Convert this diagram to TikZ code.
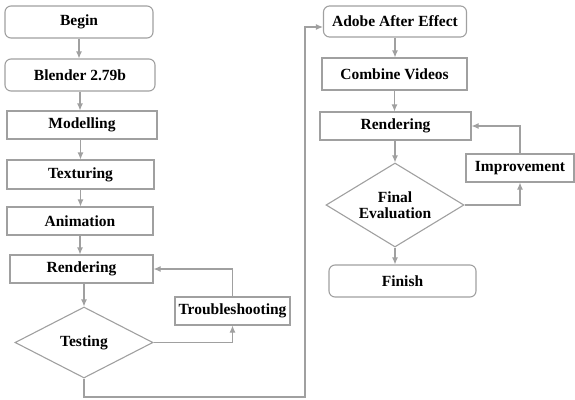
\documentclass[tikz,border=0pt]{standalone}
\usepackage{fontspec}
\setmainfont{Liberation Serif}
\usetikzlibrary{shapes.geometric,arrows.meta}

\tikzset{
  box/.style={draw=linegray,line width=1.1pt,shape=rectangle,inner sep=1pt,
    font=\fontsize{15.5}{18}\selectfont\bfseries},
  roundbox/.style={box,rounded corners=6pt},
  decision/.style={box,shape=diamond,inner sep=0pt,aspect=1.9,align=center},
  flow/.style={draw=linegray,line width=1.1pt,-{Latex[length=7pt,width=6pt]}}
}
\definecolor{linegray}{HTML}{A0A0A0}

\begin{document}
\begin{tikzpicture}[x=1pt,y=-1pt]
\useasboundingbox (0,0) rectangle (575,399);

\node (begin) [roundbox,minimum width=148pt,minimum height=32pt] at (79,22) {Begin};
\node (blender) [roundbox,minimum width=150pt,minimum height=32pt] at (80,75) {Blender 2.79b};
\node (model) [box,minimum width=150pt,minimum height=28pt] at (82,125) {Modelling};
\node (texture) [box,minimum width=147pt,minimum height=29pt] at (80.5,174.5) {Texturing};
\node (anim) [box,minimum width=146pt,minimum height=28pt] at (80,221) {Animation};
\node (render) [box,minimum width=143pt,minimum height=28pt] at (81.5,269) {Rendering};
\node (test) [decision,minimum width=138pt,minimum height=71pt] at (84,342.5) {Testing};
\node (trouble) [box,minimum width=115pt,minimum height=28pt] at (232.5,311) {Troubleshooting};

\node (adobe) [roundbox,minimum width=143pt,minimum height=31pt] at (395,21.5) {Adobe After Effect};
\node (combine) [box,minimum width=145pt,minimum height=32pt] at (394.5,74) {Combine Videos};
\node (render2) [box,minimum width=151pt,minimum height=28pt] at (395.5,126) {Rendering};
\node (improve) [box,minimum width=108pt,minimum height=28pt] at (520,168) {Improvement};
\node (eval) [decision,minimum width=138pt,minimum height=84pt] at (395,205) {Final\\[-2pt]Evaluation};
\node (finish) [roundbox,minimum width=147pt,minimum height=32pt] at (402.5,281) {Finish};

\coordinate (bottomleft) at (84,397);
\coordinate (bottomright) at (305,397);
\coordinate (topright) at (305,27);

\draw[flow] (begin.south) -- (begin.south |- blender.north);
\draw[flow] (blender.south) -- (blender.south |- model.north);
\draw[flow] (texture.north |- model.south) -- (texture.north);
\draw[flow] (texture.south) -- (texture.south |- anim.north);
\draw[flow] (anim.south) -- (anim.south |- render.north);
\draw[flow] (render.south -| test.north) -- (test.north);
\draw[flow] (test.east) -| (trouble.south);
\draw[flow] (trouble.north) |- (render.east);
\draw[flow] (test.south) -- (bottomleft) -- (bottomright) -- (topright) -- (topright -| adobe.west);

\draw[flow] (adobe.south) -- (adobe.south |- combine.north);
\draw[flow] (combine.south) -- (combine.south |- render2.north);
\draw[flow] (render2.south -| eval.north) -- (eval.north);
\draw[flow] (eval.east) -| (improve.south);
\draw[flow] (improve.north) |- (render2.east);
\draw[flow] (eval.south) -- (eval.south |- finish.north);

\end{tikzpicture}
\end{document}
